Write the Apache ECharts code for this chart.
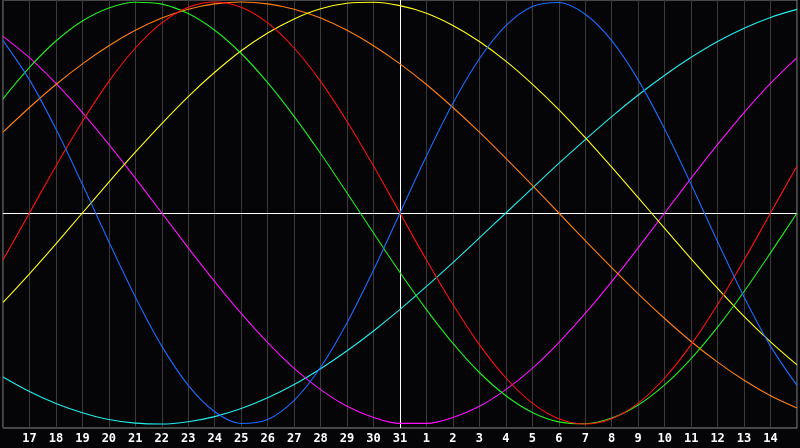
<!DOCTYPE html>
<html>
<head>
<meta charset="utf-8">
<script src="https://cdn.jsdelivr.net/npm/echarts@6/dist/echarts.min.js"></script>
<style>
html,body{margin:0;padding:0;background:#050507;}
#c{width:800px;height:448px;}
</style>
</head>
<body>
<div id="c"></div>
<script>
// Days shown (16th of the month to the 15th of the next month)
const days = ['16','17','18','19','20','21','22','23','24','25','26','27','28','29','30','31',
              '1','2','3','4','5','6','7','8','9','10','11','12','13','14','15'];
const todayLabel = '31';

// Cycle values (-1..1) read for each day
const physical     = [0.817,0.631,0.398,0.136,-0.136,-0.398,-0.631,-0.817,-0.942,-0.998,-0.979,-0.888,-0.731,-0.520,-0.270,0,0.270,0.520,0.731,0.888,0.979,0.998,0.942,0.817,0.631,0.398,0.136,-0.136,-0.398,-0.631,-0.817];
const emotional    = [-0.223,0,0.223,0.434,0.624,0.782,0.901,0.975,1,0.975,0.901,0.782,0.624,0.434,0.223,0,-0.223,-0.434,-0.624,-0.782,-0.901,-0.975,-1,-0.975,-0.901,-0.782,-0.624,-0.434,-0.223,0,0.223];
const intellectual = [0.541,0.690,0.815,0.910,0.972,0.999,0.990,0.945,0.866,0.756,0.618,0.458,0.282,0.095,-0.095,-0.282,-0.458,-0.618,-0.756,-0.866,-0.945,-0.990,-0.999,-0.972,-0.910,-0.815,-0.690,-0.541,-0.372,-0.189,0];
const intuitive    = [0.837,0.736,0.614,0.476,0.325,0.165,0,-0.165,-0.325,-0.476,-0.614,-0.736,-0.837,-0.916,-0.969,-0.997,-0.997,-0.969,-0.916,-0.837,-0.736,-0.614,-0.476,-0.325,-0.165,0,0.165,0.325,0.476,0.614,0.736];
const aesthetic    = [-0.424,-0.288,-0.146,0,0.146,0.288,0.424,0.552,0.667,0.769,0.853,0.920,0.968,0.994,0.999,0.983,0.947,0.889,0.813,0.720,0.611,0.490,0.357,0.217,0.073,-0.073,-0.217,-0.357,-0.490,-0.611,-0.720];
const awareness    = [0.383,0.5,0.609,0.707,0.793,0.866,0.924,0.966,0.991,1,0.991,0.966,0.924,0.866,0.793,0.707,0.609,0.5,0.383,0.259,0.131,0,-0.131,-0.259,-0.383,-0.5,-0.609,-0.707,-0.793,-0.866,-0.924];
const spiritual    = [-0.777,-0.846,-0.903,-0.947,-0.979,-0.996,-1.000,-0.989,-0.965,-0.927,-0.876,-0.813,-0.738,-0.653,-0.559,-0.457,-0.348,-0.235,-0.118,0,0.118,0.235,0.348,0.457,0.559,0.653,0.738,0.813,0.876,0.927,0.965];

const seriesDefs = [
  {name:'Spiritual',    data:spiritual,    color:'#22eeee'},
  {name:'Intuitive',    data:intuitive,    color:'#ff10ff'},
  {name:'Awareness',    data:awareness,    color:'#ff8010'},
  {name:'Aesthetic',    data:aesthetic,    color:'#ffff18'},
  {name:'Intellectual', data:intellectual, color:'#22ee22'},
  {name:'Emotional',    data:emotional,    color:'#ff1010'},
  {name:'Physical',     data:physical,     color:'#1c6cff'}
];

const chart = echarts.init(document.getElementById('c'), null, {renderer:'canvas'});
const series = seriesDefs.map((s, i) => ({
  name: s.name,
  type: 'line',
  data: s.data,
  smooth: 0.34,
  symbol: 'none',
  silent: true,
  lineStyle: {color: s.color, width: 1.1},
  z: 3,
  markLine: i === 0 ? {
    silent: true,
    symbol: 'none',
    label: {show: false},
    lineStyle: {color: '#ffffff', width: 1, type: 'solid'},
    data: [{yAxis: 0}, {xAxis: todayLabel}],
    z: 2
  } : undefined
}));

chart.setOption({
  backgroundColor: '#050507',
  animation: false,
  grid: {left: 0, right: 1, top: 0, bottom: 20, show: true, borderColor: '#8c8c8c', borderWidth: 1, containLabel: false},
  xAxis: {
    type: 'category',
    data: days,
    boundaryGap: false,
    axisLine: {show: true, lineStyle: {color: '#9a9a9a', width: 1}},
    axisTick: {show: false},
    axisLabel: {
      interval: 0,
      color: '#ffffff',
      fontFamily: 'DejaVu Sans Mono',
      fontWeight: 'bold',
      fontSize: 12,
      margin: 5,
      formatter: (v, idx) => (idx === 0 || idx === days.length - 1) ? '' : v
    },
    splitLine: {show: true, interval: 0, lineStyle: {color: '#3a3a3a', width: 1}}
  },
  yAxis: {
    type: 'value',
    min: -1.019,
    max: 1.0095,
    axisLine: {show: false},
    axisTick: {show: false},
    axisLabel: {show: false},
    splitLine: {show: false}
  },
  series: series
});
</script>
</body>
</html>
